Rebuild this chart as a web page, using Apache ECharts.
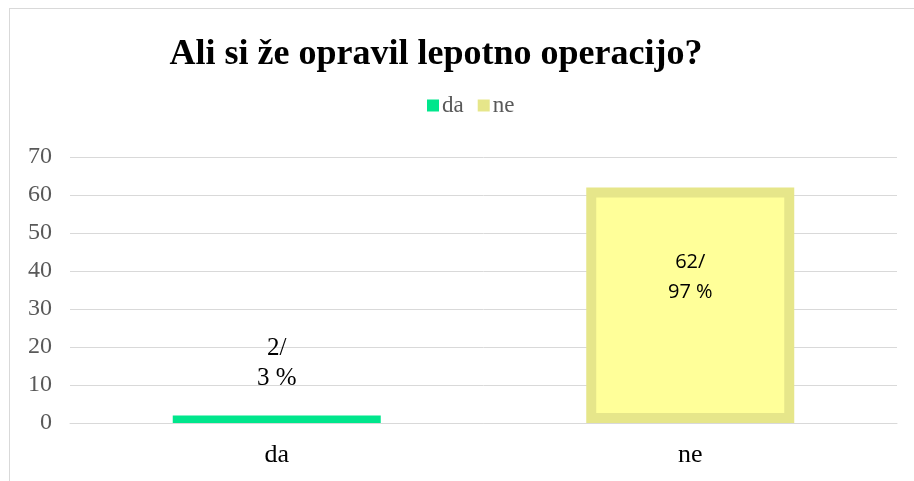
<!DOCTYPE html>
<html>
<head>
<meta charset="utf-8">
<script src="https://cdn.jsdelivr.net/npm/echarts@6/dist/echarts.min.js"></script>
<style>
  html, body { margin: 0; padding: 0; background: #fff; }
  #chart { width: 914px; height: 481px; }
  .frame { position: absolute; left: 9px; top: 8px; right: 0; bottom: 0;
    border-top: 1px solid #d9d9d9; border-left: 1px solid #d9d9d9; pointer-events: none; }
</style>
</head>
<body>
<div id="chart"></div>
<div class="frame"></div>
<script>
const categories = ['da', 'ne'];
const counts = [2, 62];
const percents = [3, 97];
const yTicks = [0, 10, 20, 30, 40, 50, 60, 70];

const serif = 'Liberation Serif, Times New Roman, serif';
const chart = echarts.init(document.getElementById('chart'));

function seriesFor(i) {
  const data = categories.map((c, j) => (j === i ? counts[j] : null));
  const isNe = i === 1;
  return {
    name: categories[i],
    type: 'bar',
    stack: 'one',
    barWidth: isNe ? 197 : 208,
    data,
    itemStyle: isNe
      ? { color: '#ffff99', borderColor: '#e6e68a', borderWidth: 10 }
      : { color: '#00e68c' },
    label: {
      show: true,
      position: isNe ? 'insideTop' : 'top',
      distance: isNe ? 60 : 22,
      formatter: () => `${counts[i]}/\n${percents[i]} %`,
      fontFamily: isNe ? 'Open Sans, Liberation Sans, sans-serif' : serif,
      fontSize: isNe ? 20 : 25,
      lineHeight: 30,
      color: '#000',
    },
  };
}

chart.setOption({
  animation: false,
  title: {
    text: 'Ali si že opravil lepotno operacijo?',
    left: 431,
    textAlign: 'center',
    top: 32,
    textStyle: { fontFamily: serif, fontWeight: 'bold', fontSize: 36, color: '#000' },
  },
  legend: {
    data: [
      { name: 'da', itemStyle: { color: '#00e68c' } },
      { name: 'ne', itemStyle: { color: '#e6e68a', borderWidth: 0 } },
    ],
    left: 422,
    top: 89,
    itemWidth: 12,
    itemHeight: 12,
    itemGap: 14,
    icon: 'rect',
    textStyle: { fontFamily: serif, fontSize: 23, color: '#595959', padding: [0, 0, 0, -2] },
  },
  grid: { left: 70, right: 17, top: 157, bottom: 58, containLabel: false },
  xAxis: {
    type: 'category',
    data: categories,
    axisLine: { lineStyle: { color: '#d9d9d9' } },
    axisTick: { show: false },
    axisLabel: { fontFamily: serif, fontSize: 26, color: '#000', margin: 19 },
  },
  yAxis: {
    type: 'value',
    min: yTicks[0],
    max: yTicks[yTicks.length - 1],
    interval: 10,
    axisLine: { show: false },
    axisTick: { show: false },
    axisLabel: { fontFamily: serif, fontSize: 24, color: '#595959', margin: 18 },
    splitLine: { lineStyle: { color: '#d9d9d9', width: 1 } },
  },
  series: [seriesFor(0), seriesFor(1)],
});
</script>
</body>
</html>
